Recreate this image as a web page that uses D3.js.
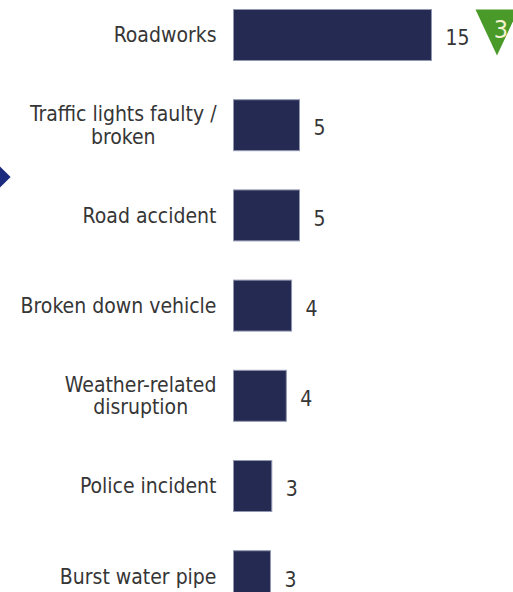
<!DOCTYPE html>
<html>
<head>
<meta charset="utf-8">
<script src="https://cdn.jsdelivr.net/npm/d3@7"></script>
<style>
  html, body { margin: 0; padding: 0; background: #ffffff; }
  svg { display: block; }
  text { font-family: "DejaVu Sans Condensed", "DejaVu Sans", "Liberation Sans", sans-serif; }
</style>
</head>
<body>
<svg id="chart" width="513" height="592"></svg>
<script>
// ---- data ----
const categories = [
  ["Roadworks"],
  ["Traffic lights faulty /", "broken"],
  ["Road accident"],
  ["Broken down vehicle"],
  ["Weather-related", "disruption"],
  ["Police incident"],
  ["Burst water pipe"]
];
const values = [15, 5, 5, 4.4, 4.0, 2.9, 2.8];
const valueLabels = ["15", "5", "5", "4", "4", "3", "3"];
const changeIndex = 0;          // category carrying the change indicator
const changeLabel = "3";        // change indicator text

// ---- layout ----
const svg = d3.select("#chart");
const x0 = 233.5;
const y = d3.scaleBand()
  .domain(d3.range(categories.length))
  .range([9, 601.2])
  .paddingInner(0.435)
  .paddingOuter(0);
const x = d3.scaleLinear().domain([0, 15]).range([x0, x0 + 198]);

// bars
svg.append("g").selectAll("rect")
  .data(values)
  .join("rect")
  .attr("x", x(0))
  .attr("y", (d, i) => y(i) + 0.5)
  .attr("width", d => x(d) - x(0))
  .attr("height", y.bandwidth())
  .attr("fill", "#242a51")
  .attr("stroke", "#9197b0")
  .attr("stroke-width", 1);

// category labels (multi-line, centered within a right-aligned block)
const labelRight = 216.5;
const lineH = 22.5;
const capOff = 7.8;
const catG = svg.append("g");
categories.forEach((lines, i) => {
  const cy = y(i) + y.bandwidth() / 2;
  const t = catG.append("text")
    .attr("fill", "#363636")
    .attr("font-size", 21);
  const n = lines.length;
  lines.forEach((ln, k) => {
    t.append("tspan")
      .attr("x", 0)
      .attr("y", cy + capOff + (k - (n - 1) / 2) * lineH)
      .text(ln);
  });
  const spans = t.selectAll("tspan").nodes();
  const widths = spans.map(s => s.getComputedTextLength());
  const blockW = d3.max(widths);
  const center = labelRight - blockW / 2;
  spans.forEach(s => {
    d3.select(s).attr("x", center).attr("text-anchor", "middle");
  });
});

// value labels
svg.append("g").selectAll("text")
  .data(values)
  .join("text")
  .attr("x", d => x(d) + 14)
  .attr("y", (d, i) => y(i) + y.bandwidth() / 2 + 10.8)
  .attr("fill", "#363636")
  .attr("font-size", 21)
  .text((d, i) => valueLabels[i]);

// change indicator (green down-triangle) next to its value label
const triCx = 497, triTop = 9.5, triHalfW = 21.5, triH = 46;
const tri = d3.path();
tri.moveTo(triCx - triHalfW, triTop);
tri.lineTo(triCx + triHalfW, triTop);
tri.lineTo(triCx, triTop + triH);
tri.closePath();
svg.append("path").attr("d", tri.toString()).attr("fill", "#4a9a29");
svg.append("text")
  .attr("x", triCx + 4)
  .attr("y", y(changeIndex) + 29)
  .attr("text-anchor", "middle")
  .attr("fill", "#f4f2d0")
  .attr("font-size", 25)
  .text(changeLabel);

// left navy diamond marker (partially off-canvas)
svg.append("path")
  .attr("d", d3.symbol(d3.symbolSquare, 225)())
  .attr("transform", "translate(0,177) rotate(45)")
  .attr("fill", "#1c2a7e");
</script>
</body>
</html>
